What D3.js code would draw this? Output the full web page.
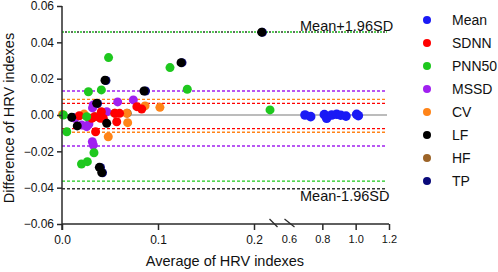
<!DOCTYPE html>
<html><head><meta charset="utf-8">
<script src="https://cdn.jsdelivr.net/npm/d3@7"></script>
<style>html,body{margin:0;padding:0;background:#fff}svg{display:block;font-family:"Liberation Sans",Arial,sans-serif}</style>
</head><body><svg id="c" width="498" height="272"></svg>
<script>
// ---- data ----
const seriesNames = ["Mean","SDNN","PNN50","MSSD","CV","LF","HF","TP"];
const seriesColors = ["#1a1af5","#ff0000","#1ec81e","#a020f0","#ff8418","#000000","#9c6428","#0a0a7a"];
const yTicks = [-0.06,-0.04,-0.02,0.00,0.02,0.04,0.06];
const xTicksLeft = [0.0,0.1,0.2];
const xTicksRight = [0.6,0.8,1.0,1.2];
const meanX = [0.696,0.730,0.812,0.826,0.856,0.886,0.910,0.942,1.006,1.016];
const meanY = [0.0000,-0.0009,0.0002,-0.0018,0.0000,0.0004,-0.0001,-0.0006,0.0004,-0.0004];
const sdnnX = [0.018,0.031,0.034,0.040,0.041,0.043,0.055,0.060,0.057,0.035,0.078,0.083];
const sdnnY = [-0.0004,-0.0018,-0.0009,-0.0018,0.0018,-0.0018,0.0009,0.0009,-0.0037,-0.0092,0.0046,0.0033];
const pnn50X = [0.0015,0.005,0.0275,0.041,0.0485,0.0257,0.0333,0.0203,0.0264,0.1125,0.1305,0.2167];
const pnn50Y = [0.0000,-0.0092,0.0128,0.0138,0.0316,-0.0009,-0.0208,-0.0270,-0.0257,0.0261,0.0142,0.0028];
const mssdX = [0.0326,0.0318,0.058,0.0743,0.0466,0.0135,0.0205,0.0257,0.028,0.0316,0.0326];
const mssdY = [0.0055,0.0039,0.0072,0.0083,0.0018,-0.0018,-0.0055,-0.0064,-0.0050,-0.0147,-0.0165];
const cvX = [0.0674,0.0684,0.0482,0.0865,0.102,0.0005,0.023];
const cvY = [0.0009,-0.0042,-0.0120,0.0050,0.0042,0.0003,0.0005];
const lfX = [0.0448,0.0854,0.0361,0.0101,0.0159,0.0466,0.0389,0.0414,0.208,0.124];
const lfY = [0.0191,0.0132,0.0064,-0.0013,-0.0060,-0.0046,-0.0288,-0.0317,0.0456,0.0288];
const hfX = [0.0344,0.055,0.068];
const hfY = [-0.0010,0.0010,0.0010];
const tpX = [0.0870,0.0422,0.2088,0.125,0.0370,0.0115,0.0401,0.0458];
const tpY = [0.0132,-0.0318,0.0455,0.0288,0.0063,-0.0014,-0.0289,0.0190];
// limits of agreement
const limitSeries = ["PNN50","LF","MSSD","CV","SDNN","SDNN","CV","MSSD","PNN50","LF"];
const limitValues = [0.0457,0.0457,0.0132,0.0086,0.0064,-0.0075,-0.0095,-0.0171,-0.0364,-0.0406];
const limitLabels = ["Mean+1.96SD","Mean-1.96SD"];

// ---- layout ----
const svg = d3.select("#c");
const mLeft = 62, mTop = 6, mBottom = 224;
const y = d3.scaleLinear().domain([-0.06,0.06]).range([mBottom, mTop]);
const xL = d3.scaleLinear().domain([0,0.22]).range([mLeft, mLeft+0.22*960]);
const xR = d3.scaleLinear().domain([0.6,1.2]).range([289, 389]);
const xv = v => v < 0.4 ? xL(v) : xR(v);
const plotRight = 387;
const axisColor = "#2a2a2a";

// zero line
svg.append("line").attr("x1", mLeft).attr("x2", plotRight).attr("y1", y(0)).attr("y2", y(0))
  .attr("stroke", "#7a7a7a").attr("stroke-width", 1.2);

// limit lines
const colorOf = n => seriesColors[seriesNames.indexOf(n)];
limitValues.forEach((v,i) => {
  const upper = v > 0.04;
  const c = limitSeries[i] === "LF" ? "#333" : colorOf(limitSeries[i]);
  svg.append("line").attr("x1", mLeft).attr("x2", plotRight).attr("y1", y(v)).attr("y2", y(v))
    .attr("stroke", c).attr("stroke-width", 1.4)
    .attr("stroke-dasharray", upper ? "2,4" : "3,2")
    .attr("stroke-dashoffset", upper && limitSeries[i] === "LF" ? 3 : 0);
});

// points
const groups = [
  ["TP", tpX, tpY], ["HF", hfX, hfY], ["Mean", meanX, meanY], ["MSSD", mssdX, mssdY],
  ["CV", cvX, cvY], ["SDNN", sdnnX, sdnnY], ["PNN50", pnn50X, pnn50Y], ["LF", lfX, lfY]
];
groups.forEach(([name, xs, ys]) => {
  svg.append("g").selectAll("circle").data(xs.map((d,i)=>[d, ys[i]])).join("circle")
    .attr("cx", d => xv(d[0])).attr("cy", d => y(d[1])).attr("r", name === "Mean" ? 4.8 : 4.5)
    .attr("fill", colorOf(name));
});

// limit labels
svg.append("text").attr("x", 300).attr("y", 31).attr("font-size", 14.5).attr("fill", "#111").text(limitLabels[0]);
svg.append("text").attr("x", 300).attr("y", 201).attr("font-size", 14.5).attr("fill", "#111").text(limitLabels[1]);

// y axis
const yAxis = d3.axisLeft(y).tickValues(yTicks).tickFormat(d3.format(".2f")).tickSize(5).tickSizeOuter(0);
const gy = svg.append("g").attr("transform", `translate(${mLeft},0)`).call(yAxis);
gy.selectAll("text").attr("font-size", 12).attr("fill", "#111").attr("font-family", "Liberation Sans, Arial, sans-serif");
gy.selectAll("line").attr("stroke", axisColor).attr("stroke-width", 1.5);
gy.select(".domain").remove();
svg.append("line").attr("x1", mLeft).attr("x2", mLeft).attr("y1", mTop).attr("y2", mBottom + 6)
  .attr("stroke", axisColor).attr("stroke-width", 1.5);

// x axis
svg.append("line").attr("x1", mLeft).attr("x2", 389).attr("y1", mBottom).attr("y2", mBottom)
  .attr("stroke", axisColor).attr("stroke-width", 1.5);
const gxL = svg.append("g").attr("transform", `translate(0,${mBottom})`)
  .call(d3.axisBottom(xL).tickValues(xTicksLeft).tickFormat(d3.format(".1f")).tickSize(6).tickSizeOuter(0));
const gxR = svg.append("g").attr("transform", `translate(0,${mBottom})`)
  .call(d3.axisBottom(xR).tickValues(xTicksRight).tickFormat(d3.format(".1f")).tickSize(6).tickSizeOuter(0));
[[gxL, 12], [gxR, 11]].forEach(([g, fs]) => {
  g.select(".domain").remove();
  g.selectAll("line").attr("stroke", axisColor).attr("stroke-width", 1.5);
  g.selectAll("text").attr("font-size", fs).attr("fill", "#111").attr("dy", "0.9em")
    .attr("font-family", "Liberation Sans, Arial, sans-serif");
});
gxR.selectAll(".tick").filter(d => d === 0.6).select("line").remove();

// break marks
[[269.5,277.5],[284.5,294.5]].forEach(([a,b]) => {
  svg.append("line").attr("x1", a).attr("x2", b).attr("y1", 219).attr("y2", 227)
    .attr("stroke", axisColor).attr("stroke-width", 1.2);
});

// axis titles
svg.append("text").attr("x", 225).attr("y", 266).attr("text-anchor", "middle").attr("font-size", 14.5)
  .attr("fill", "#111").text("Average of HRV indexes");
svg.append("text").attr("transform", "translate(14,118) rotate(-90)").attr("text-anchor", "middle")
  .attr("font-size", 14.5).attr("fill", "#111").text("Difference of HRV indexes");

// legend
const lg = svg.append("g");
seriesNames.forEach((n,i) => {
  const yy = 20 + i*23;
  lg.append("circle").attr("cx", 427).attr("cy", yy).attr("r", 4).attr("fill", seriesColors[i]);
  lg.append("text").attr("x", 452).attr("y", yy).attr("dy", "0.36em").attr("font-size", 14)
    .attr("fill", "#111").text(n);
});
</script></body></html>
